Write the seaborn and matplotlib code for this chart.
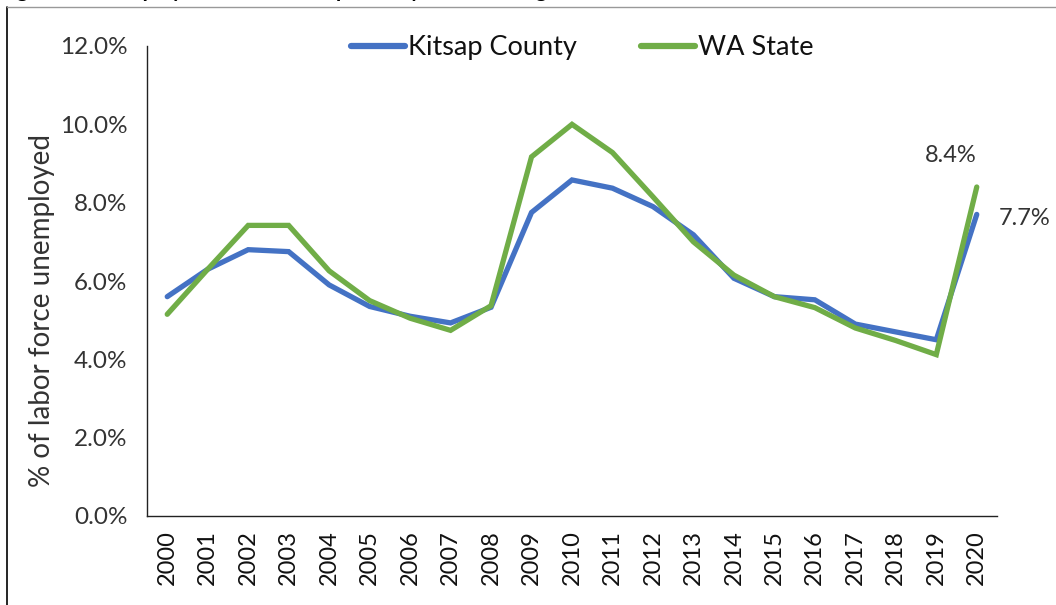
import numpy as np
import pandas as pd
import seaborn as sns
import matplotlib.pyplot as plt
from matplotlib.lines import Line2D
from matplotlib.ticker import FixedLocator, PercentFormatter

years = list(range(2000, 2021))
kitsap = [5.6, 6.3, 6.8, 6.75, 5.9, 5.35, 5.1, 4.93, 5.33, 7.75, 8.58, 8.37, 7.9,
          7.18, 6.07, 5.6, 5.52, 4.9, 4.7, 4.5, 7.7]
wa_state = [5.15, 6.3, 7.42, 7.42, 6.26, 5.5, 5.05, 4.74, 5.37, 9.17, 10.0, 9.28, 8.15,
            7.0, 6.15, 5.6, 5.32, 4.8, 4.48, 4.12, 8.4]
series_names = ['Kitsap County', 'WA State']
colors = ['#4472C4', '#70AD47']

df = pd.DataFrame({
    'idx': list(range(len(years))) * 2,
    'rate': kitsap + wa_state,
    'series': [series_names[0]] * len(years) + [series_names[1]] * len(years),
})

sns.set_style('white')
plt.rcParams['font.family'] = ['Lato', 'DejaVu Sans']
text_color = '#333333'

fig = plt.figure(figsize=(10.56, 6.05), dpi=100)
ax = fig.add_axes([147 / 1056, 1 - 516 / 605, 850 / 1056, 470 / 605])

sns.lineplot(data=df, x='idx', y='rate', hue='series', palette=colors,
             linewidth=3.8, ax=ax, legend=False)
for line in ax.lines:
    line.set_solid_capstyle('round')
    line.set_solid_joinstyle('miter')

ax.set_xlim(-0.5, len(years) - 0.5)
ax.set_ylim(0, 12)
ax.set_yticks(np.arange(0, 12.1, 2))
ax.yaxis.set_major_formatter(PercentFormatter(decimals=1))
ax.tick_params(axis='y', direction='out', length=8, width=1, colors='#222222',
               labelcolor=text_color, labelsize=17.5, pad=6)

# ticks between the categories, labels centered
ax.xaxis.set_major_locator(FixedLocator(np.arange(-0.5, len(years), 1)))
ax.xaxis.set_minor_locator(FixedLocator(np.arange(0, len(years))))
ax.set_xticklabels([])
ax.set_xticklabels([str(y) for y in years], minor=True, rotation=90)
ax.tick_params(axis='x', which='major', direction='out', length=8, width=1, colors='#222222')
ax.tick_params(axis='x', which='minor', length=0, labelsize=17, labelcolor='#111111', pad=10)

for side in ['top', 'right']:
    ax.spines[side].set_visible(False)
for side in ['left', 'bottom']:
    ax.spines[side].set_color('#222222')
    ax.spines[side].set_linewidth(1)

ax.set_xlabel('')
ax.set_ylabel('% of labor force unemployed', fontsize=20, color=text_color)
ax.yaxis.set_label_coords(-0.108, 0.438)

# end labels
ax.annotate(f'{wa_state[-1]:.1f}%', (len(years) - 1, wa_state[-1]), xytext=(-19, 23),
            textcoords='offset points', ha='center', va='center', fontsize=17, color=text_color)
ax.annotate(f'{kitsap[-1]:.1f}%', (len(years) - 1, kitsap[-1]), xytext=(16, -3),
            textcoords='offset points', ha='left', va='center', fontsize=17, color=text_color)

handles = [Line2D([], [], color=c, linewidth=4.5) for c in colors]
ax.legend(handles, series_names, loc='upper center', bbox_to_anchor=(0.512, 1.075), ncol=2,
          frameon=False, fontsize=19.5, handlelength=2.0, handletextpad=0.1, columnspacing=2.35,
          labelcolor='#111111')

# clipped title (only descenders show) and frame at top-left
fig.text(0.0, 1 + 3 / 605, 'Figure 5: Unemployment Rate, Kitsap County and Washington State',
         fontsize=15, fontweight='bold', va='baseline', ha='left', color='black')
fig.add_artist(Line2D([7 / 1056, 7 / 1056], [0, 1 - 7 / 605], color='black', linewidth=1.2))
fig.add_artist(Line2D([7 / 1056, 1], [1 - 7 / 605, 1 - 7 / 605], color='#999999', linewidth=1))

fig.savefig('out.png', dpi=100)
